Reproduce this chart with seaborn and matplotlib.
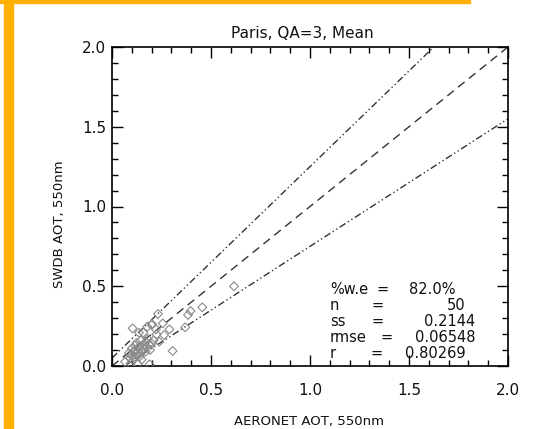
import numpy as np
import pandas as pd
import matplotlib
matplotlib.use("Agg")
import matplotlib.pyplot as plt
import seaborn as sns
from matplotlib.patches import Rectangle
from matplotlib.ticker import MultipleLocator

# ---- data ----
aeronet_aot = [0.616, 0.456, 0.397, 0.384, 0.370, 0.306, 0.290, 0.263, 0.239, 0.256,
               0.232, 0.202, 0.222, 0.178, 0.104, 0.136, 0.158, 0.145, 0.187, 0.190,
               0.116, 0.138, 0.158, 0.175, 0.192, 0.108, 0.124, 0.149, 0.099, 0.133,
               0.091, 0.108, 0.066, 0.094, 0.130, 0.116, 0.200, 0.225, 0.170, 0.210,
               0.120, 0.160, 0.180, 0.140, 0.100, 0.200, 0.150, 0.085, 0.170, 0.125]
swdb_aot = [0.500, 0.368, 0.345, 0.320, 0.243, 0.094, 0.230, 0.194, 0.152, 0.267,
            0.326, 0.263, 0.230, 0.246, 0.236, 0.209, 0.209, 0.159, 0.138, 0.010,
            0.127, 0.121, 0.111, 0.121, 0.100, 0.090, 0.079, 0.090, 0.069, 0.069,
            0.048, 0.038, 0.027, 0.017, 0.013, 0.058, 0.257, 0.198, 0.150, 0.160,
            0.100, 0.130, 0.170, 0.060, 0.110, 0.140, 0.040, 0.080, 0.090, 0.145]
# expected error envelope: +/- (ee_abs + ee_rel * x)
ee_abs = 0.05
ee_rel = 0.20
axis_range = [0.0, 2.0]
tick_values = [0.0, 0.5, 1.0, 1.5, 2.0]
tick_labels = ["0.0", "0.5", "1.0", "1.5", "2.0"]

stat_names = ["%w.e", "n", "ss", "rmse", "r"]
stat_values = ["82.0%", "50", "0.2144", "0.06548", "0.80269"]

title = "Paris, QA=3, Mean"
xlabel = "AERONET AOT, 550nm"
ylabel = "SWDB AOT, 550nm"

# ---- style ----
sns.set_style("ticks")
plt.rcParams["font.family"] = ["DejaVu Sans"]

W, H = 536, 429
fig = plt.figure(figsize=(W / 100, H / 100), dpi=100)
fig.patch.set_facecolor("white")

# orange decorations
orange = "#FFB000"
fig.patches.append(Rectangle((4 / W, 0), 8.5 / W, 1, transform=fig.transFigure,
                             color=orange, zorder=0))
fig.patches.append(Rectangle((0, 1 - 3 / H), 470 / W, 3 / H, transform=fig.transFigure,
                             color=orange, zorder=0))

left, right, top, bottom = 112, 508, 47, 366
ax = fig.add_axes([left / W, 1 - bottom / H, (right - left) / W, (bottom - top) / H])

df = pd.DataFrame({"AERONET": aeronet_aot, "SWDB": swdb_aot})
sns.scatterplot(data=df, x="AERONET", y="SWDB", ax=ax, marker="D", s=20,
                facecolor="none", edgecolor="#8a8a8a", linewidth=0.8, zorder=3)

xs = np.array(axis_range)
ax.plot(xs, xs, color="#333333", lw=1.0, linestyle=(0, (6, 4)))
dd = (0, (5, 2, 1, 2, 1, 2))
ax.plot(xs, xs + ee_abs + ee_rel * xs, color="#333333", lw=1.0, linestyle=dd)
ax.plot(xs, xs - ee_abs - ee_rel * xs, color="#333333", lw=1.0, linestyle=dd)

ax.set_xlim(axis_range)
ax.set_ylim(axis_range)
ax.set_xticks(tick_values, tick_labels)
ax.set_yticks(tick_values, tick_labels)
ax.xaxis.set_minor_locator(MultipleLocator(0.1))
ax.yaxis.set_minor_locator(MultipleLocator(0.1))
ax.tick_params(which="both", direction="in", top=True, right=True, color="black",
               width=1.0, labelsize=11, labelcolor="#111111")
ax.tick_params(which="major", length=8)
ax.tick_params(which="minor", length=4)
ax.tick_params(axis="x", which="major", pad=12)
ax.tick_params(axis="y", which="major", pad=4)
for sp in ax.spines.values():
    sp.set_linewidth(1.2)
    sp.set_color("black")
    sp.set_visible(True)

ax.set_xlabel("")
ax.set_ylabel("")
fig.text(309 / W, 1 - 421 / H, xlabel, ha="center", va="center", fontsize=9.5, color="#111111")
fig.text(59 / W, 1 - 224 / H, ylabel, ha="center", va="center", rotation=90,
         fontsize=9.5, color="#111111")
fig.text(302 / W, 1 - 33 / H, title, ha="center", va="center", fontsize=11, color="#111111")

# stats block
rows_y = [289, 305, 321, 337, 353]
eq_x = [383, 378, 378, 387, 377]
val_end = [455, 465, 475, 476, 466]
for name, val, yy, ex, ve in zip(stat_names, stat_values, rows_y, eq_x, val_end):
    fig.text(330 / W, 1 - yy / H, name, ha="left", va="center", fontsize=10.5, color="#111111")
    fig.text(ex / W, 1 - yy / H, "=", ha="center", va="center", fontsize=10.5, color="#111111")
    fig.text(ve / W, 1 - yy / H, val, ha="right", va="center", fontsize=10.5, color="#111111")

fig.savefig("out.png", dpi=100)
